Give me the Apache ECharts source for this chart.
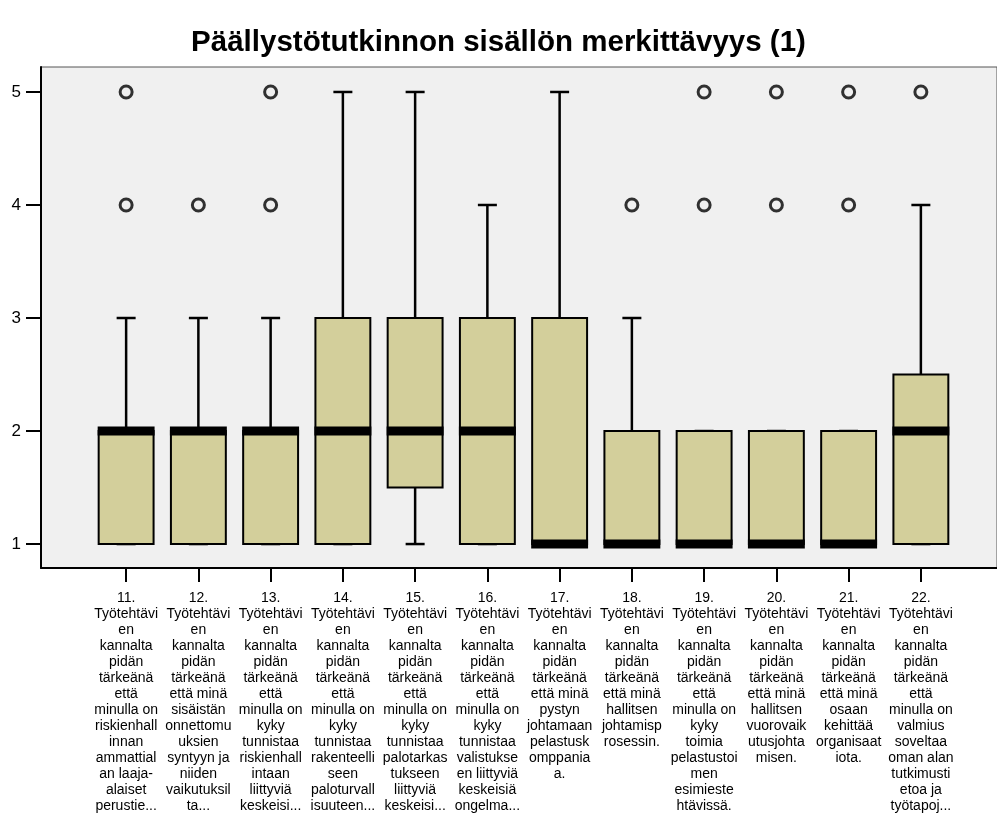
<!DOCTYPE html>
<html>
<head>
<meta charset="utf-8">
<script src="https://cdn.jsdelivr.net/npm/echarts@6/dist/echarts.min.js"></script>
<style>
html,body{margin:0;padding:0;background:#fff;}
#chart{width:997px;height:816px;}
</style>
</head>
<body>
<div id="chart"></div>
<script>
const titleText = 'Päällystötutkinnon sisällön merkittävyys (1)';
const categories = [
  '11.\nTyötehtävi\nen\nkannalta\npidän\ntärkeänä\nettä\nminulla on\nriskienhall\ninnan\nammattial\nan laaja-\nalaiset\nperustie...',
  '12.\nTyötehtävi\nen\nkannalta\npidän\ntärkeänä\nettä minä\nsisäistän\nonnettomu\nuksien\nsyntyyn ja\nniiden\nvaikutuksil\nta...',
  '13.\nTyötehtävi\nen\nkannalta\npidän\ntärkeänä\nettä\nminulla on\nkyky\ntunnistaa\nriskienhall\nintaan\nliittyviä\nkeskeisi...',
  '14.\nTyötehtävi\nen\nkannalta\npidän\ntärkeänä\nettä\nminulla on\nkyky\ntunnistaa\nrakenteelli\nseen\npaloturvall\nisuuteen...',
  '15.\nTyötehtävi\nen\nkannalta\npidän\ntärkeänä\nettä\nminulla on\nkyky\ntunnistaa\npalotarkas\ntukseen\nliittyviä\nkeskeisi...',
  '16.\nTyötehtävi\nen\nkannalta\npidän\ntärkeänä\nettä\nminulla on\nkyky\ntunnistaa\nvalistukse\nen liittyviä\nkeskeisiä\nongelma...',
  '17.\nTyötehtävi\nen\nkannalta\npidän\ntärkeänä\nettä minä\npystyn\njohtamaan\npelastusk\nomppania\na.',
  '18.\nTyötehtävi\nen\nkannalta\npidän\ntärkeänä\nettä minä\nhallitsen\njohtamisp\nrosessin.',
  '19.\nTyötehtävi\nen\nkannalta\npidän\ntärkeänä\nettä\nminulla on\nkyky\ntoimia\npelastustoi\nmen\nesimieste\nhtävissä.',
  '20.\nTyötehtävi\nen\nkannalta\npidän\ntärkeänä\nettä minä\nhallitsen\nvuorovaik\nutusjohta\nmisen.',
  '21.\nTyötehtävi\nen\nkannalta\npidän\ntärkeänä\nettä minä\nosaan\nkehittää\norganisaat\niota.',
  '22.\nTyötehtävi\nen\nkannalta\npidän\ntärkeänä\nettä\nminulla on\nvalmius\nsoveltaa\noman alan\ntutkimusti\netoa ja\ntyötapoj...'
];
const mins    = [1, 1, 1, 1, 1,   1, 1, 1, 1, 1, 1, 1];
const q1s     = [1, 1, 1, 1, 1.5, 1, 1, 1, 1, 1, 1, 1];
const medians = [2, 2, 2, 2, 2,   2, 1, 1, 1, 1, 1, 2];
const q3s     = [2, 2, 2, 3, 3,   3, 3, 2, 2, 2, 2, 2.5];
const maxs    = [3, 3, 3, 5, 5,   4, 5, 3, 2, 2, 2, 4];
const outliers = [
  [0, 4], [0, 5],
  [1, 4],
  [2, 4], [2, 5],
  [7, 4],
  [8, 4], [8, 5],
  [9, 4], [9, 5],
  [10, 4], [10, 5],
  [11, 5]
];
const yTicks = [1, 2, 3, 4, 5];

const boxData = categories.map((c, i) => [i, mins[i], q1s[i], medians[i], q3s[i], maxs[i]]);

const yMin = 0.788, yMax = 5.221;
const FONT = 'Arial, "Liberation Sans", Helvetica, sans-serif';

const chart = echarts.init(document.getElementById('chart'), null, {renderer: 'canvas'});

function renderBox(params, api) {
  const x = api.value(0);
  const mn = api.value(1), q1 = api.value(2), md = api.value(3), q3 = api.value(4), mx = api.value(5);
  const band = api.size([1, 0])[0];
  const bw = band * 0.76;
  const cw = 19;
  const pMin = api.coord([x, mn]);
  const pQ1 = api.coord([x, q1]);
  const pMd = api.coord([x, md]);
  const pQ3 = api.coord([x, q3]);
  const pMx = api.coord([x, mx]);
  const cx = pMin[0];
  const line = {stroke: '#000', lineWidth: 2.5};
  const children = [];
  if (mx > q3) {
    children.push({type: 'line', shape: {x1: cx, y1: pMx[1], x2: cx, y2: pQ3[1]}, style: line});
  }
  if (mn < q1) {
    children.push({type: 'line', shape: {x1: cx, y1: pMin[1], x2: cx, y2: pQ1[1]}, style: line});
  }
  children.push({type: 'line', shape: {x1: cx - cw / 2, y1: pMx[1], x2: cx + cw / 2, y2: pMx[1]}, style: line});
  children.push({type: 'line', shape: {x1: cx - cw / 2, y1: pMin[1], x2: cx + cw / 2, y2: pMin[1]}, style: line});
  children.push({
    type: 'rect',
    shape: {x: cx - bw / 2, y: pQ3[1], width: bw, height: pQ1[1] - pQ3[1]},
    style: {fill: '#d3cf9b', stroke: '#000', lineWidth: 2}
  });
  children.push({
    type: 'rect',
    shape: {x: cx - bw / 2 - 1, y: pMd[1] - 4.5, width: bw + 2, height: 9},
    style: {fill: '#000'}
  });
  return {type: 'group', children: children};
}

const option = {
  backgroundColor: '#ffffff',
  animation: false,
  title: {
    text: titleText,
    left: 'center',
    top: 21,
    textStyle: {fontFamily: FONT, fontSize: 29.5, lineHeight: 34, fontWeight: 'bold', color: '#000'}
  },
  grid: [
    {left: 41, right: 0, top: 67, bottom: 248, show: true, backgroundColor: '#f0f0f0', borderColor: '#555', borderWidth: 1},
    {left: 90, right: 40, top: 67, bottom: 248}
  ],
  xAxis: [
    {
      type: 'value', gridIndex: 0, min: 0, max: 1,
      axisLine: {show: true, onZero: false, lineStyle: {color: '#000', width: 2}},
      axisTick: {show: false}, axisLabel: {show: false}, splitLine: {show: false}
    },
    {
      type: 'category', gridIndex: 1, data: categories, boundaryGap: true,
      axisLine: {show: false},
      axisTick: {show: true, alignWithLabel: true, length: 14, lineStyle: {color: '#000', width: 2}},
      axisLabel: {
        interval: 0, margin: 22, fontFamily: FONT, fontSize: 14, lineHeight: 16,
        color: '#000', align: 'center', verticalAlign: 'top'
      },
      splitLine: {show: false}
    }
  ],
  yAxis: [
    {
      type: 'value', gridIndex: 0, min: yMin, max: yMax,
      axisLine: {show: true, lineStyle: {color: '#000', width: 2}},
      axisTick: {show: true, inside: false, length: 15, customValues: yTicks, lineStyle: {color: '#000', width: 2}},
      axisLabel: {show: true, customValues: yTicks, margin: 20, fontFamily: FONT, fontSize: 17, color: '#000'},
      splitLine: {show: false}
    },
    {
      type: 'value', gridIndex: 1, min: yMin, max: yMax,
      axisLine: {show: false}, axisTick: {show: false}, axisLabel: {show: false}, splitLine: {show: false}
    }
  ],
  series: [
    {
      type: 'custom', xAxisIndex: 1, yAxisIndex: 1,
      renderItem: renderBox,
      encode: {x: 0, y: [1, 2, 3, 4, 5]},
      data: boxData,
      z: 3
    },
    {
      type: 'scatter', xAxisIndex: 1, yAxisIndex: 1,
      symbol: 'circle', symbolSize: 12,
      itemStyle: {color: 'rgba(0,0,0,0)', borderColor: '#000', borderWidth: 3},
      data: outliers,
      z: 4
    }
  ]
};
chart.setOption(option);
</script>
</body>
</html>
